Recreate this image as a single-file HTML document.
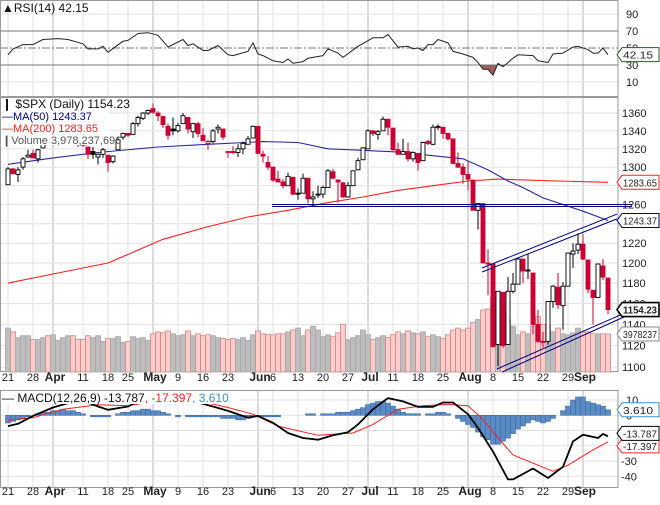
<!DOCTYPE html>
<html><head><meta charset="utf-8"><style>
html,body{margin:0;padding:0;background:#fff;}
svg{display:block;font-family:"Liberation Sans",sans-serif;}
</style></head><body>
<svg id="chart" width="660" height="505" viewBox="0 0 660 505" xmlns="http://www.w3.org/2000/svg">
<defs><clipPath id="rsiLow"><rect x="0" y="65" width="618" height="32"/></clipPath></defs>
<g id="grid"></g><g id="vol"></g><g id="lines"></g><g id="candles"></g><g id="annot"></g><g id="labels"></g>
</svg>
<script>
const dateLabels=["21","28","Apr","11","18","25","May","9","16","23","Jun","6","13","20","27","Jul","11","18","25","Aug","8","15","22","29","Sep"];
const dateIdx=[0,5,9,15,20,24,29,34,39,44,50,53,58,63,68,72,77,82,87,92,97,102,107,112,115];
const openP=[1281,1298,1292,1300,1311,1315,1309,1321,1327,1329,1333,1332,1335,1334,1336,1330,1322,1317,1311,1314,1313,1306,1319,1333,1337,1336,1348,1354,1360,1365,1360,1356,1345,1342,1340,1348,1355,1339,1348,1335,1326,1328,1342,1342,1317,1317,1316,1320,1325,1332,1345,1314,1305,1300,1287,1284,1280,1289,1272,1272,1288,1266,1271,1271,1278,1295,1286,1283,1268,1280,1297,1308,1320,1340,1336,1340,1353,1343,1319,1314,1317,1309,1315,1307,1328,1325,1344,1344,1337,1331,1304,1300,1292,1286,1254,1261,1200,1199,1121,1171,1121,1172,1179,1204,1192,1190,1140,1124,1124,1162,1176,1158,1177,1209,1213,1219,1203,1173,1166,1197,1185];
const highP=[1300,1299,1300,1311,1319,1319,1320,1331,1329,1338,1336,1339,1339,1338,1339,1334,1322,1322,1315,1321,1313,1313,1333,1338,1337,1350,1357,1361,1364,1371,1362,1357,1348,1355,1349,1360,1355,1349,1350,1343,1330,1342,1347,1342,1317,1323,1325,1328,1334,1346,1345,1318,1312,1300,1296,1287,1294,1289,1277,1293,1288,1274,1280,1280,1298,1298,1287,1284,1284,1296,1310,1322,1342,1340,1341,1356,1353,1343,1327,1331,1327,1317,1315,1328,1330,1347,1347,1344,1338,1331,1316,1304,1307,1286,1261,1261,1214,1199,1172,1171,1186,1190,1205,1204,1209,1190,1154,1133,1162,1178,1190,1181,1210,1220,1230,1229,1203,1173,1198,1204,1185];
const lowP=[1281,1292,1284,1297,1310,1310,1305,1321,1325,1324,1329,1328,1330,1326,1322,1322,1309,1309,1303,1310,1295,1304,1319,1330,1333,1336,1345,1352,1358,1359,1351,1343,1330,1335,1338,1348,1337,1332,1333,1329,1319,1326,1337,1330,1310,1314,1311,1314,1325,1332,1314,1305,1297,1284,1284,1277,1280,1270,1265,1272,1261,1258,1267,1267,1278,1287,1262,1267,1268,1280,1297,1308,1320,1334,1330,1340,1335,1318,1313,1314,1306,1306,1296,1307,1324,1324,1341,1331,1329,1303,1299,1282,1275,1254,1234,1200,1168,1120,1101,1118,1121,1170,1179,1180,1184,1131,1123,1118,1121,1156,1155,1135,1177,1195,1209,1203,1170,1140,1166,1183,1150];
const closeP=[1298,1293,1297,1309,1313,1310,1319,1328,1326,1332,1332,1332,1335,1333,1328,1324,1314,1314,1314,1319,1305,1312,1330,1337,1335,1348,1355,1360,1363,1361,1357,1347,1335,1340,1346,1357,1342,1348,1337,1329,1328,1340,1344,1333,1317,1316,1320,1326,1331,1345,1315,1312,1300,1286,1284,1280,1290,1271,1271,1288,1266,1268,1271,1278,1296,1288,1284,1268,1280,1296,1307,1321,1340,1337,1339,1353,1344,1319,1314,1317,1309,1316,1305,1327,1326,1344,1345,1337,1331,1304,1300,1292,1287,1254,1261,1200,1199,1119,1172,1120,1172,1179,1204,1192,1193,1140,1124,1123,1162,1177,1159,1177,1210,1212,1219,1204,1174,1166,1199,1186,1154.23];
const volume=[4.6,4.2,3.6,3.8,3.8,3.4,3.4,3.6,3.8,3.9,3.3,3.6,3.8,3.8,3.4,3.4,3.8,3.6,3.8,3.2,3.5,3.5,3.7,3.1,3.2,3.7,3.5,3.6,3.3,4.0,4.2,4.1,4.3,4.0,3.8,3.9,4.3,3.8,4.0,3.8,3.9,3.8,3.6,3.5,3.4,3.5,3.4,3.6,3.3,3.9,4.3,4.0,3.9,3.9,4.0,4.0,4.2,4.4,4.6,3.8,4.4,4.8,4.4,3.7,3.9,3.7,4.1,5.0,3.4,3.6,3.8,4.4,3.9,3.4,3.6,3.8,3.6,3.9,4.2,4.0,4.3,4.1,4.0,4.2,3.7,3.9,3.7,3.5,3.9,4.4,4.6,4.4,4.6,5.2,5.5,6.5,6.6,7.8,7.6,6.3,5.5,4.8,3.9,4.2,4.0,4.8,5.8,5.0,4.8,4.2,4.6,4.0,3.9,4.1,4.6,4.2,4.2,4.0,4.0,4.0,3.978];
const ma50Day=[0,9,18,30,40,51,58,64,72,80,84,91,96,100,103,107,111,115,120];
const ma50Val=[1303,1310,1316,1322,1325,1328,1327,1320,1318,1316,1313,1309,1297,1285,1278,1267,1260,1253,1243.37];
const ma200Day=[0,10,20,31,40,48,56,64,71,78,85,92,98,110,120];
const ma200Val=[1180,1190,1200,1224,1237,1247,1254,1262,1268,1275,1280,1285,1287,1285,1283.65];
const rsiDay=[0,1,3,5,7,10,12,15,16,18,19,20,23,24,26,28,30,32,35,36,37,39,40,42,44,45,48,49,50,51,53,55,56,57,59,60,63,64,66,67,70,73,75,76,78,80,81,82,83,84,85,86,88,89,91,93,94,95,96,97,98,99,101,102,105,106,108,109,111,113,114,116,117,118,119,120];
const rsiVal=[42,49,54,54,60,61,60,55,49,49,52,45,58,59,67,68,65,51,60,53,55,47,47,53,42,41,46,56,43,41,35,33,37,32,34,38,41,49,44,39,52,62,62,66,51,52,49,50,47,54,54,60,56,46,43,39,33,25,25,18,32,28,38,42,41,35,33,43,44,51,52,48,44,44,50,42.15];
const macdDay=[0,2,5,9,12,15,18,20,24,26,30,35,38,41,44,48,50,53,56,59,62,65,68,70,73,76,79,82,85,87,89,92,94,97,100,101,105,108,111,113,115,118,119,120];
const macdVal=[-7.1,-5.6,-0.4,5.1,8,9.6,5.8,3.6,5.8,9.1,11.8,10.7,8.4,5.8,2.9,-1.6,-0.4,-4.9,-11.6,-14.9,-16,-13.1,-11.1,-6,4,11.3,9.1,5.6,5.6,8.4,8.4,0.7,-8.2,-23.8,-42,-42,-34.9,-41.1,-33.8,-17.1,-12.7,-14.9,-12.2,-13.787];
const sigDay=[0,5,11,18,24,30,38,44,49,54,62,69,73,78,83,88,92,95,98,101,106,109,112,117,120];
const sigVal=[-3.3,-1.6,4,6.9,6.2,9.6,9.6,5.1,0.7,-7.1,-13.1,-11.6,-6,4,6.2,7.3,6.2,-2.7,-14.9,-26,-32.7,-36.7,-32.7,-22.7,-17.397];
const histVal=[-5,-4,-3,-2,-1,0,1,2,2,3,3,4,3,3,2,1,0,-1,-1,-1,-1,0,1,2,2,3,3,4,4,3,3,2,1,0,-1,0,-1,-1,-1,-1,-1,-1,-1,-2,-2,-2,-3,-3,-2,-1,-1,-1,-1,-1,-1,0,0,0,0,0,1,1,0,1,1,1,2,2,2,3,4,5,7,8,9,9,8,6,4,2,1,1,1,0,1,1,2,2,1,0,-2,-4,-6,-8,-11,-14,-16,-19,-19,-17,-15,-12,-9,-7,-5,-3,-4,-5,-4,-2,0,3,6,10,12,12,9,8,7,6,3.61];
const priceTicks=[1360,1340,1320,1300,1280,1260,1240,1220,1200,1180,1160,1140,1120,1100];
const rsiTicks=[90,70,50,30,10];
const macdTicks=[10,0,-10,-20,-30,-40];

const NS="http://www.w3.org/2000/svg";
const X=i=>8+i*5;
const PY=p=>263-Math.log(p/1200)*1198;
const RY=v=>48-(v-50)*0.85;
const MY=v=>415.3-v*1.525;
const VY=v=>372-v*9.55;
function mk(parent,tag,attrs,txt){const e=document.createElementNS(NS,tag);for(const k in attrs)e.setAttribute(k,attrs[k]);if(txt!==undefined)e.textContent=txt;document.getElementById(parent).appendChild(e);return e;}
const R=618;
[[0,97],[97,372],[390,488]].forEach(([t,b])=>{
  dateIdx.forEach((d,k)=>{const month=isNaN(+dateLabels[k]);
    const g=mk('grid','line',{x1:X(d),x2:X(d),y1:t,y2:b,stroke:month?'#b8b8b8':'#e2e2e2','stroke-width':1});
    
    });
});
priceTicks.forEach(p=>{const g=mk('grid','line',{x1:0,x2:R,y1:PY(p),y2:PY(p),stroke:'#e2e2e2'});
  
  });
macdTicks.forEach(v=>{const g=mk('grid','line',{x1:0,x2:R,y1:MY(v),y2:MY(v),stroke:'#e2e2e2'});
  
  });
[10,90].forEach(v=>{const g=mk('grid','line',{x1:0,x2:R,y1:RY(v),y2:RY(v),stroke:'#e2e2e2'});
  
  });
[70,30].forEach(v=>{const g=mk('grid','line',{x1:0,x2:R,y1:RY(v),y2:RY(v),stroke:'#777'});
  
  });
{const g=mk('grid','line',{x1:0,x2:R,y1:RY(50),y2:RY(50),stroke:'#777','stroke-dasharray':'8,2,2,2'});
 
 }
[[0,97],[97,372],[390,488]].forEach(([t,b])=>{const r=mk('grid','rect',{x:0.5,y:t+0.5,width:R-0.5,height:b-t-1,fill:'none',stroke:'#9a9a9a'});
  
  });
volume.forEach((v,i)=>{const down=i>0&&closeP[i]<closeP[i-1];
  const r=mk('vol','rect',{x:X(i)-2.5,y:VY(v),width:5,height:372-VY(v),fill:down?'#ffcccc':'#bdbdbd',stroke:down?'#cc8888':'#a8a8a8','stroke-width':0.8});
  
  });
function poly(days,vals,yf,color,w,par){const pts=days.map((d,k)=>X(d).toFixed(1)+','+yf(vals[k]).toFixed(1)).join(' ');
  return mk(par,'polyline',{points:pts,fill:'none',stroke:color,'stroke-width':w,'stroke-linejoin':'round'});}
{const e=poly(ma200Day,ma200Val,PY,'#ff2020',1.1,'lines');
 
 }
{const e=poly(ma50Day,ma50Val,PY,'#2a2a9a',1.1,'lines');
 
 }
closeP.forEach((c,i)=>{const o=openP[i];const down=i>0&&c<closeP[i-1];const col=down?'#cc0033':'#000';
  const w=mk('candles','line',{x1:X(i),x2:X(i),y1:PY(highP[i]),y2:PY(lowP[i]),stroke:col,'stroke-width':1});
  
  
  const top=PY(Math.max(o,c)),bot=PY(Math.min(o,c));
  const b=mk('candles','rect',{x:X(i)-2,y:top,width:4,height:Math.max(1,bot-top),fill:c<o?col:'#fff',stroke:col,'stroke-width':0.9});
  
  });
function seg(d1,p1,d2,p2){return mk('annot','line',{x1:X(d1),y1:PY(p1),x2:X(d2),y2:PY(p2),stroke:'#000080','stroke-width':1});}
{const l=seg(52.8,1260,124.8,1260);}
{const l=seg(52.8,1258,124.8,1258);}
{const l=seg(94.8,1195,121.8,1250);}
{const l=seg(94.8,1191,121.8,1245);}
{const l=seg(97.8,1098.4,123.4,1151);}
{const l=seg(98.8,1095.6,123.4,1147.6);}
{const pts=rsiDay.map((d,k)=>X(d).toFixed(1)+','+RY(rsiVal[k]).toFixed(1));
 const f=mk('annot','polygon',{points:X(rsiDay[0])+','+RY(30)+' '+pts.join(' ')+' '+X(rsiDay[rsiDay.length-1])+','+RY(30),fill:'#9c5e5e','clip-path':'url(#rsiLow)'});
 
 
 const e=poly(rsiDay,rsiVal,RY,'#222',1,'annot');
 
 }
histVal.forEach((v,i)=>{const y0=MY(0),y1=MY(v);
  const r=mk('annot','rect',{x:X(i)-2.5,y:Math.min(y0,y1),width:5,height:Math.abs(y1-y0),fill:'#5b8ac4',stroke:'#3d6ea8','stroke-width':0.6});
  
  });
{const e=poly(sigDay,sigVal,MY,'#ff2020',1,'annot');}
{const e=poly(macdDay,macdVal,MY,'#000',1.8,'annot');}
function txt(x,y,s,attrs){const a=Object.assign({x:x,y:y,'font-size':11,fill:'#222'},attrs||{});return mk('labels','text',a,s);}
priceTicks.forEach(p=>{const t=txt(622,PY(p)+4,String(p));});
rsiTicks.forEach(v=>{const t=txt(626,RY(v)+4,String(v));});
macdTicks.forEach(v=>{const t=txt(v<0?621:626,MY(v)+4,String(v));});
[381,495].forEach(y=>{dateLabels.forEach((s,k)=>{const month=isNaN(+s);
  const t=txt(X(dateIdx[k])+(month?2:0),y,s,{'text-anchor':'middle','font-weight':month?'bold':'normal','font-size':month?12:11});
  
  });});
function box(y,s,col,bold){const g=mk('labels','g',{});
  const p=document.createElementNS(NS,'path');p.setAttribute('d',`M617,${y} L622,${y-7} L659,${y-7} L659,${y+7} L622,${y+7} Z`);
  p.setAttribute('fill','#fff');p.setAttribute('stroke',col);p.setAttribute('stroke-width',bold?1.6:1);g.appendChild(p);
  const t=document.createElementNS(NS,'text');t.setAttribute('x',623);t.setAttribute('y',y+4);t.setAttribute('font-size',bold?10.5:10.5);
  t.setAttribute('textLength',s.length>6?34:(s.length*6));t.setAttribute('lengthAdjust','spacingAndGlyphs');
  t.setAttribute('fill','#222');if(bold)t.setAttribute('font-weight','bold');t.textContent=s;g.appendChild(t);return g;}
{const g=box(RY(42.15),'42.15','#2d5a2d',false);}
{const g=box(PY(1283.65),'1283.65','#ff2020',false);}
{const g=box(PY(1243.37),'1243.37','#000080',false);}
{const g=box(PY(1154.23),'1154.23','#000',true);}
{const g=box(334,'3978237','#888',false);}
{const g=box(MY(3.61),'3.610','#3a8fd0',false);}
{const g=box(MY(-17.397)+4,'-17.397','#ff2020',false);}
{const g=box(MY(-13.787)-3,'-13.787','#000',false);}
</script>
<script>
(function(){const L=document.getElementById('labels');const NS="http://www.w3.org/2000/svg";
function add(tag,attrs,text){const e=document.createElementNS(NS,tag);for(const k in attrs)e.setAttribute(k,attrs[k]);if(text!==undefined)e.textContent=text;L.appendChild(e);return e;}
let e;
e=add('rect',{x:1,y:98,width:108,height:47,fill:'#fff'});


e=add('text',{x:2,y:12,'font-size':12,fill:'#111'},'\u25B2RSI(14) 42.15');


e=add('text',{x:2,y:108,'font-size':12,fill:'#111'},'\u2759 $SPX (Daily) 1154.23');


e=add('text',{x:2,y:120,'font-size':11,fill:'#000080'},'\u2014MA(50) 1243.37');


e=add('text',{x:2,y:132,'font-size':11,fill:'#ff2020'},'\u2014MA(200) 1283.65');


e=add('text',{x:2,y:144,'font-size':11,fill:'#555'},'\u2759Volume 3,978,237,696');


e=add('rect',{x:1,y:391,width:240,height:13,fill:'#fff'});


const t=add('text',{x:2,y:402,'font-size':12,fill:'#111'});


[['\u2014 MACD(12,26,9) -13.787','#111'],[', -17.397','#ff2020'],[', 3.610','#3a8fd0']].forEach(([s,c])=>{const ts=document.createElementNS(NS,'tspan');ts.setAttribute('fill',c);ts.textContent=s;t.appendChild(ts);});
})();
</script>
</body></html>
